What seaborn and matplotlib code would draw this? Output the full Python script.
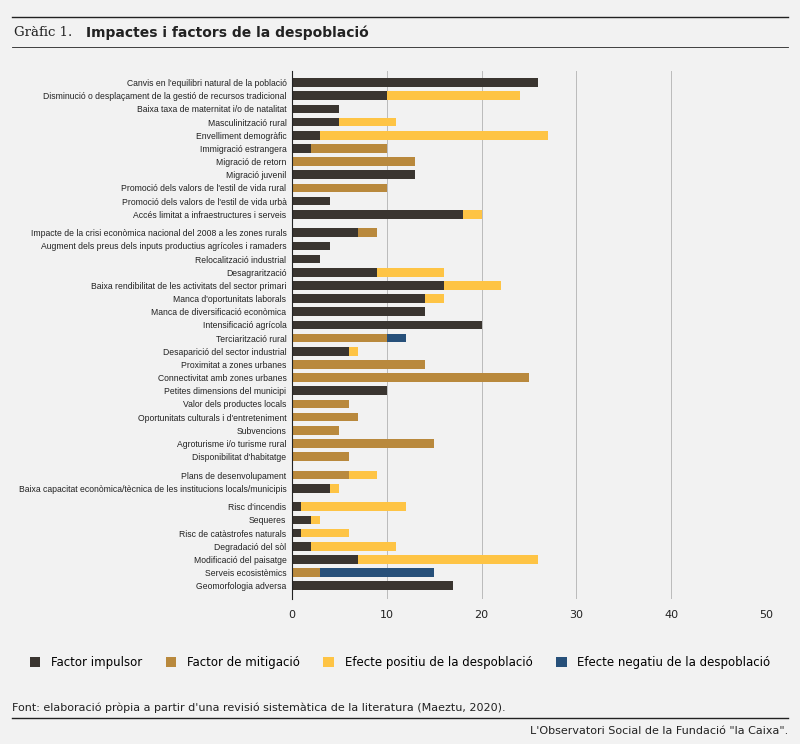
import matplotlib
matplotlib.use("Agg")
import matplotlib.pyplot as plt
import seaborn as sns
import pandas as pd
import numpy as np
from matplotlib.patches import Patch
from matplotlib.lines import Line2D

categories = [
 "Canvis en l'equilibri natural de la població",
 "Disminució o desplaçament de la gestió de recursos tradicional",
 "Baixa taxa de maternitat i/o de natalitat",
 "Masculinització rural",
 "Envelliment demogràfic",
 "Immigració estrangera",
 "Migració de retorn",
 "Migració juvenil",
 "Promoció dels valors de l'estil de vida rural",
 "Promoció dels valors de l'estil de vida urbà",
 "Accés limitat a infraestructures i serveis",
 "Impacte de la crisi econòmica nacional del 2008 a les zones rurals",
 "Augment dels preus dels inputs productius agrícoles i ramaders",
 "Relocalització industrial",
 "Desagrarització",
 "Baixa rendibilitat de les activitats del sector primari",
 "Manca d'oportunitats laborals",
 "Manca de diversificació econòmica",
 "Intensificació agrícola",
 "Terciarització rural",
 "Desaparició del sector industrial",
 "Proximitat a zones urbanes",
 "Connectivitat amb zones urbanes",
 "Petites dimensions del municipi",
 "Valor dels productes locals",
 "Oportunitats culturals i d'entreteniment",
 "Subvencions",
 "Agroturisme i/o turisme rural",
 "Disponibilitat d'habitatge",
 "Plans de desenvolupament",
 "Baixa capacitat econòmica/tècnica de les institucions locals/municipis",
 "Risc d'incendis",
 "Sequeres",
 "Risc de catàstrofes naturals",
 "Degradació del sòl",
 "Modificació del paisatge",
 "Serveis ecosistèmics",
 "Geomorfologia adversa",
]
impulsor  = [26,10,5,5,3,2,0,13,0,4,18, 7,4,3,9,16,14,14,20,0,6,0,0,10,0,0,0,0,0, 0,4, 1,2,1,2,7,0,17]
mitigacio = [0,0,0,0,0,8,13,0,10,0,0, 2,0,0,0,0,0,0,0,10,0,14,25,0,6,7,5,15,6, 6,0, 0,0,0,0,0,3,0]
positiu   = [0,14,0,6,24,0,0,0,0,0,2, 0,0,0,7,6,2,0,0,0,1,0,0,0,0,0,0,0,0, 3,1, 11,1,5,9,19,0,0]
negatiu   = [0,0,0,0,0,0,0,0,0,0,0, 0,0,0,0,0,0,0,0,2,0,0,0,0,0,0,0,0,0, 0,0, 0,0,0,0,0,12,0]
gap_after = [10, 28, 30]
series_names = ["Factor impulsor", "Factor de mitigació", "Efecte positiu de la despoblació", "Efecte negatiu de la despoblació"]
colors = ["#3a3530", "#b9893d", "#fec445", "#27507a"]

pos = []
y = 0.0
for i in range(len(categories)):
    pos.append(y)
    y += 1.0
    if i in gap_after:
        y += 0.4

bg = "#f2f2f2"
fig = plt.figure(figsize=(8, 7.44), dpi=100, facecolor=bg)
ax = fig.add_axes([0.365, 0.195, 0.5925, 0.71], facecolor=bg)

vals = np.array([impulsor, mitigacio, positiu, negatiu], dtype=float)
cum = np.cumsum(vals, axis=0)
for k in range(3, -1, -1):
    df = pd.DataFrame({"v": cum[k], "y": pos})
    sns.barplot(data=df, x="v", y="y", orient="h", native_scale=True,
                color=colors[k], saturation=1, width=0.66, ax=ax, linewidth=0)

ax.set_xlim(0, 50)
ax.set_ylim(pos[-1] + 1.0, pos[0] - 0.9)
ax.set_xticks([0,10,20,30,40,50])
ax.set_yticks(pos)
ax.set_yticklabels(categories, fontsize=6.2, color="#222", family=["Liberation Sans", "DejaVu Sans"])
ax.tick_params(axis="x", labelsize=8, colors="#222", length=0, pad=8)
ax.tick_params(axis="y", length=0, pad=4)
ax.set_xlabel(""); ax.set_ylabel("")
ax.grid(axis="x", color="#bbbbbb", linewidth=0.7)
ax.set_axisbelow(True)
for s in ["top", "right", "bottom"]:
    ax.spines[s].set_visible(False)
ax.spines["left"].set_color("#222")
ax.spines["left"].set_linewidth(0.8)

handles = [Patch(facecolor=c, edgecolor="none") for c in colors]
fig.legend(handles, series_names, loc="center", bbox_to_anchor=(0.5, 0.109), ncol=4,
           frameon=False, fontsize=8.5, handlelength=0.9, handleheight=0.9, columnspacing=2.0,
           handletextpad=0.9)

fig.add_artist(Line2D([0.015, 0.985], [1-17/744, 1-17/744], color="#222", lw=1))
fig.add_artist(Line2D([0.015, 0.985], [1-47/744, 1-47/744], color="#222", lw=0.6))
fig.text(0.017, 1-33/744, "Gràfic 1.", family="DejaVu Serif", fontsize=9.5, va="center", color="#222")
fig.text(0.107, 1-33/744, "Impactes i factors de la despoblació", fontsize=10, weight="bold", va="center", color="#222")
fig.text(0.015, 1-708/744, "Font: elaboració pròpia a partir d'una revisió sistemàtica de la literatura (Maeztu, 2020).", fontsize=8, va="center", color="#222")
fig.add_artist(Line2D([0.015, 0.985], [1-718/744, 1-718/744], color="#222", lw=1))
fig.text(0.985, 1-731/744, "L'Observatori Social de la Fundació \"la Caixa\".", fontsize=8, va="center", ha="right", color="#222")

fig.savefig("out.png", dpi=100, facecolor=bg)
